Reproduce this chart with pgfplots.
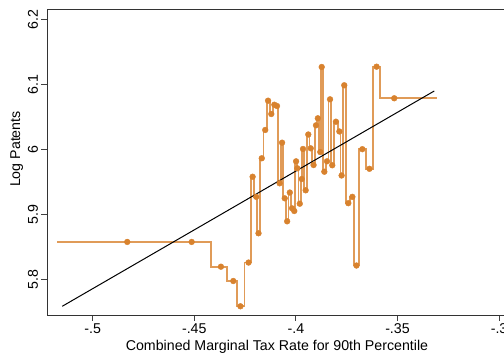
\documentclass[border=0pt]{standalone}
\usepackage{pgfplots}
\pgfplotsset{compat=1.18}
\usepackage{fontspec}
\setmainfont{Liberation Sans}
\definecolor{orng}{RGB}{216,130,46}
\begin{document}
\begin{tikzpicture}
\begin{axis}[
  scale only axis, width=460bp, height=305bp,
  xmin=-0.5225, xmax=-0.2961, ymin=5.7451, ymax=6.2143,
  xtick={-0.5,-0.45,-0.4,-0.35,-0.3},
  xticklabels={-.5,-.45,-.4,-.35,-.3},
  ytick={5.8,5.9,6,6.1,6.2},
  yticklabels={5.8,5.9,6,6.1,6.2},
  xtick pos=left, ytick pos=left,
  tick align=outside, major tick length=5.5bp,
  tick style={black!75, line width=0.8bp},
  axis line style={black!80, line width=1bp},
  font=\fontsize{14.2bp}{16bp}\selectfont,
  yticklabel style={rotate=90, anchor=south},
  xlabel={Combined Marginal Tax Rate for 90th Percentile},
  ylabel={Log Patents},
  xlabel style={at={([yshift=-31.7bp]rel axis cs:0.5,0)}, anchor=center},
  ylabel style={at={([xshift=-30.3bp]rel axis cs:0,0.544)}, anchor=center},
  clip=false,
]
\addplot[const plot mark mid, orng, draw opacity=0.8, line width=1.9bp] table {
-0.5174 5.8575
-0.4830 5.8575
-0.4465 5.8575
-0.4369 5.8194
-0.4308 5.7974
-0.4273 5.7585
-0.4233 5.8258
-0.4213 5.9578
-0.4195 5.9269
-0.4184 5.8708
-0.4168 5.9862
-0.4151 6.0297
-0.4137 6.0748
-0.4121 6.0543
-0.4106 6.0686
-0.4093 6.0666
-0.4080 5.9477
-0.4068 6.0102
-0.4055 5.9246
-0.4043 5.8892
-0.4030 5.9335
-0.4019 5.9092
-0.4008 5.9051
-0.3999 5.9815
-0.3993 5.9708
-0.3981 5.9163
-0.3971 5.9543
-0.3965 6.0005
-0.3952 5.9369
-0.3939 6.0228
-0.3927 6.0015
-0.3913 5.9758
-0.3901 6.0369
-0.3892 6.0477
-0.3880 5.9958
-0.3873 6.1266
-0.3860 5.9655
-0.3847 5.9815
-0.3832 6.0769
-0.3821 5.9754
-0.3803 6.0425
-0.3786 6.0274
-0.3775 5.9597
-0.3762 6.0985
-0.3742 5.9171
-0.3722 5.9269
-0.3702 5.8212
-0.3673 6.0002
-0.3638 5.9700
-0.3603 6.1271
-0.3569 6.0785
-0.3307 6.0785
};
\addplot[only marks, mark=*, mark size=2.9bp, orng, mark options={draw=none, fill=orng}] table {
-0.4830 5.8575
-0.4513 5.8575
-0.4369 5.8194
-0.4308 5.7974
-0.4273 5.7585
-0.4233 5.8258
-0.4213 5.9578
-0.4195 5.9269
-0.4184 5.8708
-0.4168 5.9862
-0.4151 6.0297
-0.4137 6.0748
-0.4121 6.0543
-0.4106 6.0686
-0.4093 6.0666
-0.4080 5.9477
-0.4068 6.0102
-0.4055 5.9246
-0.4043 5.8892
-0.4030 5.9335
-0.4019 5.9092
-0.4008 5.9051
-0.3999 5.9815
-0.3993 5.9708
-0.3981 5.9163
-0.3971 5.9543
-0.3965 6.0005
-0.3952 5.9369
-0.3939 6.0228
-0.3927 6.0015
-0.3913 5.9758
-0.3901 6.0369
-0.3892 6.0477
-0.3880 5.9958
-0.3873 6.1266
-0.3860 5.9655
-0.3847 5.9815
-0.3832 6.0769
-0.3821 5.9754
-0.3803 6.0425
-0.3786 6.0274
-0.3775 5.9597
-0.3762 6.0985
-0.3742 5.9171
-0.3722 5.9269
-0.3702 5.8212
-0.3673 6.0002
-0.3638 5.9700
-0.3603 6.1271
-0.3516 6.0785
};
\addplot[black, line width=1bp] coordinates {(-0.5150,5.7585) (-0.3319,6.0897)};
\end{axis}
\pgfresetboundingbox
\useasboundingbox (-47bp,-41bp) rectangle (457bp,315bp);
\end{tikzpicture}
\end{document}
